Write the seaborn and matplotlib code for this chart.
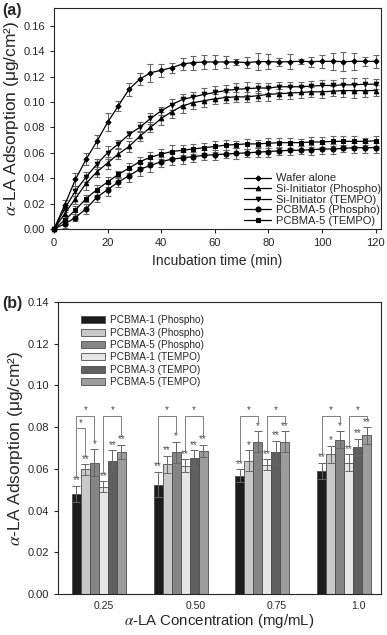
import numpy as np
import pandas as pd
import matplotlib
matplotlib.use('Agg')
import matplotlib.pyplot as plt
import seaborn as sns

sns.set_style('ticks')
plt.rcParams['font.family'] = ['Liberation Sans', 'DejaVu Sans']
plt.rcParams['mathtext.fontset'] = 'stix'

# (a) 吸附动力学，每4 min 一个点
time_min = [0, 4, 8, 12, 16, 20, 24, 28, 32, 36, 40, 44, 48, 52, 56, 60,
            64, 68, 72, 76, 80, 84, 88, 92, 96, 100, 104, 108, 112, 116, 120]

wafer = [0, 0.019, 0.039, 0.055, 0.069, 0.084, 0.097, 0.110, 0.118, 0.123, 0.125,
         0.127, 0.130, 0.131, 0.1315, 0.1315, 0.1315, 0.1315, 0.131, 0.1318, 0.1318,
         0.1315, 0.1318, 0.132, 0.1318, 0.132, 0.132, 0.1318, 0.132, 0.132, 0.132]
wafer_err = [0, 0.004, 0.005, 0.005, 0.005, 0.007, 0.004, 0.005, 0.005, 0.007, 0.005,
             0.004, 0.005, 0.0056, 0.0056, 0.0056, 0.005, 0.0024, 0.0046, 0.0066, 0.006,
             0.0034, 0.006, 0.0022, 0.004, 0.005, 0.0066, 0.0073, 0.0066, 0.0034, 0.005]

si_phospho = [0, 0.012, 0.024, 0.036, 0.045, 0.052, 0.059, 0.065, 0.073, 0.080, 0.087,
              0.0925, 0.097, 0.0995, 0.101, 0.1025, 0.1035, 0.104, 0.104, 0.105, 0.106,
              0.1065, 0.107, 0.1075, 0.108, 0.108, 0.1085, 0.109, 0.109, 0.109, 0.109]
si_phospho_err = [0, 0.003, 0.004, 0.005, 0.004, 0.005, 0.004, 0.004, 0.004, 0.004, 0.005,
                  0.005, 0.006, 0.005, 0.005, 0.004, 0.004, 0.004, 0.004, 0.004, 0.005,
                  0.004, 0.005, 0.004, 0.004, 0.005, 0.004, 0.005, 0.006, 0.005, 0.004]

si_tempo = [0, 0.016, 0.030, 0.041, 0.051, 0.060, 0.067, 0.0745, 0.080, 0.087, 0.093,
            0.098, 0.102, 0.104, 0.106, 0.1075, 0.109, 0.110, 0.1105, 0.111, 0.111,
            0.112, 0.112, 0.112, 0.1125, 0.113, 0.113, 0.1135, 0.1135, 0.114, 0.114]
si_tempo_err = [0, 0.003, 0.004, 0.004, 0.004, 0.005, 0.003, 0.003, 0.004, 0.004, 0.003,
                0.004, 0.004, 0.004, 0.005, 0.005, 0.004, 0.005, 0.005, 0.004, 0.004,
                0.004, 0.004, 0.004, 0.004, 0.004, 0.004, 0.005, 0.005, 0.005, 0.004]

pcbma5_phospho = [0, 0.004, 0.009, 0.016, 0.025, 0.031, 0.037, 0.042, 0.047, 0.050, 0.053,
                  0.055, 0.056, 0.057, 0.058, 0.0585, 0.059, 0.0595, 0.060, 0.0605, 0.061,
                  0.0615, 0.062, 0.062, 0.0625, 0.063, 0.063, 0.0635, 0.064, 0.064, 0.064]
pcbma5_phospho_err = [0, 0.003, 0.003, 0.004, 0.004, 0.005, 0.004, 0.005, 0.005, 0.005, 0.004,
                      0.005, 0.005, 0.004, 0.004, 0.004, 0.003, 0.004, 0.003, 0.004, 0.004,
                      0.003, 0.004, 0.003, 0.004, 0.004, 0.004, 0.003, 0.004, 0.004, 0.004]

pcbma5_tempo = [0, 0.007, 0.015, 0.024, 0.031, 0.037, 0.043, 0.048, 0.053, 0.0565, 0.059,
                0.061, 0.062, 0.063, 0.064, 0.065, 0.066, 0.0665, 0.067, 0.067, 0.0675,
                0.068, 0.068, 0.068, 0.0685, 0.0685, 0.069, 0.069, 0.069, 0.069, 0.0695]
pcbma5_tempo_err = [0, 0.003, 0.003, 0.003, 0.004, 0.004, 0.003, 0.004, 0.004, 0.004, 0.004,
                    0.005, 0.004, 0.004, 0.004, 0.004, 0.004, 0.003, 0.004, 0.003, 0.004,
                    0.004, 0.004, 0.003, 0.004, 0.004, 0.004, 0.004, 0.004, 0.003, 0.004]

names_a = ['Wafer alone', 'Si-Initiator (Phospho)', 'Si-Initiator (TEMPO)',
           'PCBMA-5 (Phospho)', 'PCBMA-5 (TEMPO)']

# (b) 不同浓度下的吸附量
conc_labels = ['0.25', '0.50', '0.75', '1.0']
names_b = ['PCBMA-1 (Phospho)', 'PCBMA-3 (Phospho)', 'PCBMA-5 (Phospho)',
           'PCBMA-1 (TEMPO)', 'PCBMA-3 (TEMPO)', 'PCBMA-5 (TEMPO)']
p1_phospho = [0.048, 0.0525, 0.0568, 0.059]
p3_phospho = [0.0597, 0.0622, 0.064, 0.067]
p5_phospho = [0.063, 0.068, 0.073, 0.074]
p1_tempo = [0.0515, 0.0615, 0.062, 0.063]
p3_tempo = [0.064, 0.065, 0.068, 0.0705]
p5_tempo = [0.068, 0.0685, 0.073, 0.076]
p1_phospho_err = [0.004, 0.006, 0.003, 0.004]
p3_phospho_err = [0.0025, 0.004, 0.005, 0.004]
p5_phospho_err = [0.0065, 0.005, 0.005, 0.004]
p1_tempo_err = [0.0025, 0.003, 0.0025, 0.004]
p3_tempo_err = [0.005, 0.004, 0.0055, 0.004]
p5_tempo_err = [0.0035, 0.003, 0.005, 0.004]
stars = [['**', '**', '**', '**'],
         ['**', '**', '*', '*'],
         ['*', '*', '*', '*'],
         ['**', '**', '**', '**'],
         ['**', '**', '**', '**'],
         ['**', '**', '**', '**']]
# (组, 左柱, 右柱, 高度)
brackets = [(0, 0, 2, 0.0855), (0, 0, 1, 0.0795), (0, 3, 5, 0.0855),
            (1, 0, 2, 0.0855), (1, 3, 5, 0.0855),
            (2, 0, 2, 0.0855), (2, 3, 5, 0.0855),
            (3, 0, 2, 0.0855), (3, 3, 5, 0.0855)]
bar_colors = ['#1c1c1c', '#c9c9c9', '#858585', '#e6e6e6', '#5f5f5f', '#9c9c9c']

fig = plt.figure(figsize=(3.87, 6.35), dpi=100)
ax1 = fig.add_axes([54 / 387, 1 - 229 / 635, 327 / 387, 221 / 635])
ax2 = fig.add_axes([58 / 387, 1 - 594 / 635, 323 / 387, 292 / 635])

# ---------- (a) ----------
series_a = [(wafer, wafer_err, 'D', 2.6),
            (si_phospho, si_phospho_err, '^', 3.3),
            (si_tempo, si_tempo_err, 'v', 3.3),
            (pcbma5_phospho, pcbma5_phospho_err, 'o', 3.6),
            (pcbma5_tempo, pcbma5_tempo_err, 's', 3.1)]
for name, (vals, errs, mk, ms) in zip(names_a, series_a):
    ax1.errorbar(time_min, vals, yerr=errs, fmt='none', ecolor='0.4',
                 elinewidth=0.8, capsize=2.5, capthick=0.8, zorder=2)
    sns.lineplot(x=time_min, y=vals, ax=ax1, color='black', lw=0.9, marker=mk,
                 markersize=ms, markeredgecolor='black', label=name, zorder=3,
                 clip_on=False)

ax1.set_xlim(0, 122)
ax1.set_ylim(0, 0.174)
ax1.set_xticks([0, 20, 40, 60, 80, 100, 120])
ax1.set_yticks(np.arange(0, 0.161, 0.02))
ax1.yaxis.set_major_formatter(matplotlib.ticker.FormatStrFormatter('%.2f'))
ax1.tick_params(labelsize=8, length=3, width=0.8, direction='out')
ax1.set_xlabel('Incubation time (min)', fontsize=10, labelpad=4)
ax1.set_ylabel(r'$\alpha$-LA Adsorption (μg/cm²)', fontsize=12.5, labelpad=2)
for sp in ax1.spines.values():
    sp.set_linewidth(0.8)
ax1.legend(loc='lower right', bbox_to_anchor=(1.0, 0.015), frameon=False,
           fontsize=8, borderpad=0, borderaxespad=0, labelspacing=0.05,
           handlelength=2.5, handletextpad=0.4)

# ---------- (b) ----------
values_b = [p1_phospho, p3_phospho, p5_phospho, p1_tempo, p3_tempo, p5_tempo]
errs_b = [p1_phospho_err, p3_phospho_err, p5_phospho_err, p1_tempo_err,
          p3_tempo_err, p5_tempo_err]
rows = []
for name, vals in zip(names_b, values_b):
    for c, v in zip(conc_labels, vals):
        rows.append({'conc': c, 'series': name, 'ads': v})
df_b = pd.DataFrame(rows)

sns.barplot(data=df_b, x='conc', y='ads', hue='series', hue_order=names_b,
            order=conc_labels, palette=bar_colors, width=0.66, errorbar=None,
            edgecolor='0.3', linewidth=0.6, saturation=1, ax=ax2)

bar_groups = list(ax2.containers)[:len(names_b)]
centers = []
tops = []
for s, cont in enumerate(bar_groups):
    cs = [b.get_x() + b.get_width() / 2 for b in cont]
    centers.append(cs)
    tops.append([values_b[s][g] + errs_b[s][g] for g in range(len(conc_labels))])
    ax2.errorbar(cs, values_b[s], yerr=errs_b[s], fmt='none', ecolor='0.4',
                 elinewidth=0.7, capsize=3, capthick=0.7, zorder=3)
    for g in range(len(conc_labels)):
        ax2.text(cs[g], tops[s][g] + 0.0002, stars[s][g], ha='center', va='bottom',
                 fontsize=7, color='0.3')

for g, s1, s2, h in brackets:
    x1, x2 = centers[s1][g], centers[s2][g]
    ax2.plot([x1, x1, x2, x2], [tops[s1][g] + 0.0045, h, h, tops[s2][g] + 0.0045],
             color='0.5', lw=0.7)
    ax2.text((x1 + x2) / 2, h + 0.0001, '*', ha='center', va='bottom',
             fontsize=7, color='0.3')

ax2.set_xlim(-0.5, 3.45)
ax2.set_ylim(0, 0.14)
ax2.set_yticks(np.arange(0, 0.141, 0.02))
ax2.yaxis.set_major_formatter(matplotlib.ticker.FormatStrFormatter('%.2f'))
ax2.set_xticks(np.arange(len(conc_labels)) + np.array([0.06, 0.18, 0.18, 0.17]))
ax2.set_xticklabels(conc_labels)
ax2.tick_params(axis='y', labelsize=8, length=3, width=0.8, direction='out')
ax2.tick_params(axis='x', labelsize=7.5, length=0, pad=5)
ax2.set_xlabel(r'$\alpha$-LA Concentration (mg/mL)', fontsize=10.8, labelpad=1)
ax2.set_ylabel(r'$\alpha$-LA Adsorption (μg/cm²)', fontsize=12.5, labelpad=2)
for sp in ax2.spines.values():
    sp.set_linewidth(0.8)
ax2.legend(loc='upper left', bbox_to_anchor=(0.07, 0.955), frameon=False,
           fontsize=7.2, borderpad=0, borderaxespad=0, labelspacing=0.24,
           handlelength=2.4, handleheight=0.7, handletextpad=0.5)

fig.text(0.005, 1 - 3 / 635, '(a)', fontsize=11.5, fontweight='bold', va='top')
fig.text(0.005, 1 - 296 / 635, '(b)', fontsize=11.5, fontweight='bold', va='top')

fig.savefig('out.png', dpi=100)
